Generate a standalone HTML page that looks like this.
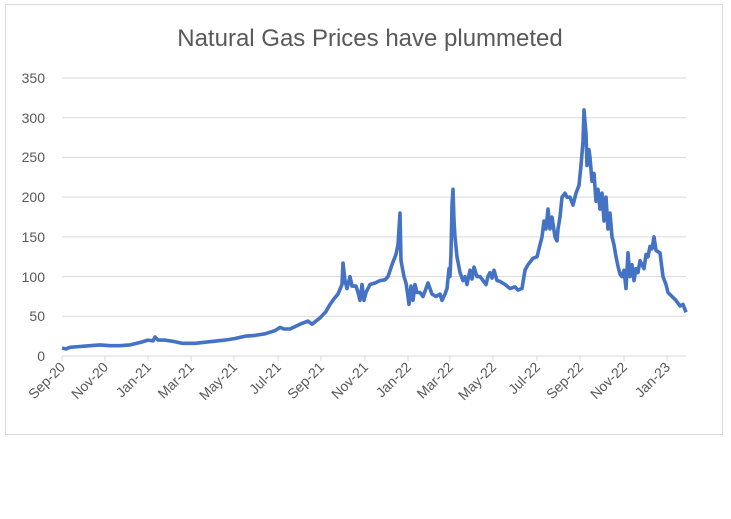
<!DOCTYPE html>
<html><head><meta charset="utf-8"><style>
body{margin:0;background:#fff;}
svg text{font-family:"Liberation Sans",sans-serif;fill:#595959;}
</style></head><body>
<svg width="731" height="514" viewBox="0 0 731 514" xmlns="http://www.w3.org/2000/svg">
<rect x="0" y="0" width="731" height="514" fill="#fff"/>
<rect x="5.5" y="4.5" width="717" height="430" fill="#fff" stroke="#d9d9d9" stroke-width="1"/>
<text x="370" y="46" font-size="24" text-anchor="middle">Natural Gas Prices have plummeted</text>
<g stroke="#d9d9d9" stroke-width="1">
<line x1="62" x2="686" y1="78" y2="78"/><line x1="62" x2="686" y1="117.7" y2="117.7"/>
<line x1="62" x2="686" y1="157.4" y2="157.4"/><line x1="62" x2="686" y1="197.1" y2="197.1"/>
<line x1="62" x2="686" y1="236.9" y2="236.9"/><line x1="62" x2="686" y1="276.6" y2="276.6"/>
<line x1="62" x2="686" y1="316.3" y2="316.3"/><line x1="62" x2="686" y1="356" y2="356"/>
<line x1="62" x2="62" y1="356" y2="361"/><line x1="105" x2="105" y1="356" y2="361"/><line x1="148" x2="148" y1="356" y2="361"/><line x1="191" x2="191" y1="356" y2="361"/><line x1="234" x2="234" y1="356" y2="361"/><line x1="278" x2="278" y1="356" y2="361"/><line x1="321" x2="321" y1="356" y2="361"/><line x1="365" x2="365" y1="356" y2="361"/><line x1="408" x2="408" y1="356" y2="361"/><line x1="450" x2="450" y1="356" y2="361"/><line x1="493" x2="493" y1="356" y2="361"/><line x1="537" x2="537" y1="356" y2="361"/><line x1="580" x2="580" y1="356" y2="361"/><line x1="624" x2="624" y1="356" y2="361"/><line x1="667" x2="667" y1="356" y2="361"/>
</g>
<g font-size="14" text-anchor="end">
<text x="45" y="83">350</text><text x="45" y="123">300</text><text x="45" y="162">250</text><text x="45" y="202">200</text><text x="45" y="242">150</text><text x="45" y="282">100</text><text x="45" y="321">50</text><text x="45" y="361">0</text>
</g>
<g font-size="14" text-anchor="end">
<text transform="translate(66,368) rotate(-45)">Sep-20</text>
<text transform="translate(109,368) rotate(-45)">Nov-20</text>
<text transform="translate(152,368) rotate(-45)">Jan-21</text>
<text transform="translate(195,368) rotate(-45)">Mar-21</text>
<text transform="translate(238,368) rotate(-45)">May-21</text>
<text transform="translate(282,368) rotate(-45)">Jul-21</text>
<text transform="translate(325,368) rotate(-45)">Sep-21</text>
<text transform="translate(369,368) rotate(-45)">Nov-21</text>
<text transform="translate(412,368) rotate(-45)">Jan-22</text>
<text transform="translate(454,368) rotate(-45)">Mar-22</text>
<text transform="translate(497,368) rotate(-45)">May-22</text>
<text transform="translate(541,368) rotate(-45)">Jul-22</text>
<text transform="translate(584,368) rotate(-45)">Sep-22</text>
<text transform="translate(628,368) rotate(-45)">Nov-22</text>
<text transform="translate(671,368) rotate(-45)">Jan-23</text>
</g>
<polyline fill="none" stroke="#4472c4" stroke-width="3.6" stroke-linejoin="round" points="62,348.1 66,348.9 70,347.3 80,346.5 90,345.7 100,344.9 110,345.7 120,345.7 130,344.9 140,342.5 148,340.1 153,340.9 155,337.0 158,340.1 165,340.1 175,341.7 182,343.3 195,343.3 210,341.7 225,340.1 235,338.5 245,336.2 255,335.4 265,333.8 275,330.6 280,327.4 284,329.0 290,329.0 300,324.2 308,321.1 312,324.2 320,317.9 326,311.5 330,304.4 334,298.8 338,294.1 342,284.5 343,263.1 345,280.6 347,288.5 350,276.6 352,286.1 356,286.1 358,292.5 360,300.4 362,284.5 364,300.4 366,292.5 370,284.5 375,283.0 380,280.6 385,279.8 388,276.6 392,264.7 396,254.4 398,244.8 400,213.1 401,260.7 404,276.6 406,283.0 408,296.5 409,304.4 411,286.1 413,300.4 415,284.5 417,292.5 420,292.5 423,296.5 426,288.5 428,283.0 432,294.1 436,296.5 440,294.1 442,300.4 445,294.1 447,288.5 449,268.7 450,276.6 451,252.8 452,205.1 453,189.3 454,221.0 455,236.9 457,256.8 460,272.6 463,280.6 465,276.6 467,284.5 470,270.2 472,279.0 474,267.1 477,276.6 480,276.6 483,280.6 486,284.5 488,276.6 490,272.6 492,278.2 494,270.2 497,280.6 500,281.4 505,284.5 510,288.5 515,286.9 518,290.1 522,288.5 525,270.2 528,264.7 533,258.3 537,256.8 540,244.8 542,236.9 544,221.0 546,229.0 548,209.1 550,229.0 552,217.1 555,236.9 557,240.9 558,229.0 560,217.1 562,197.2 565,193.2 567,197.2 570,197.2 573,205.1 576,193.2 579,185.3 581,165.4 583,141.6 584,109.9 586,133.7 587,165.4 589,149.6 590,157.5 592,181.3 594,173.4 596,201.2 598,189.3 600,209.1 602,193.2 604,221.0 606,197.2 608,229.0 610,213.1 612,236.9 614,244.8 616,256.8 618,266.3 620,274.2 622,276.6 624,270.2 626,288.5 628,252.8 630,276.6 632,264.7 634,280.6 636,268.7 638,272.6 640,260.7 644,268.7 646,254.4 648,256.8 650,246.4 652,248.8 654,236.9 656,250.4 660,252.8 663,276.6 666,284.5 668,292.5 672,296.5 676,300.4 680,306.0 683,304.4 686,312.3"/>
</svg>
</body></html>
